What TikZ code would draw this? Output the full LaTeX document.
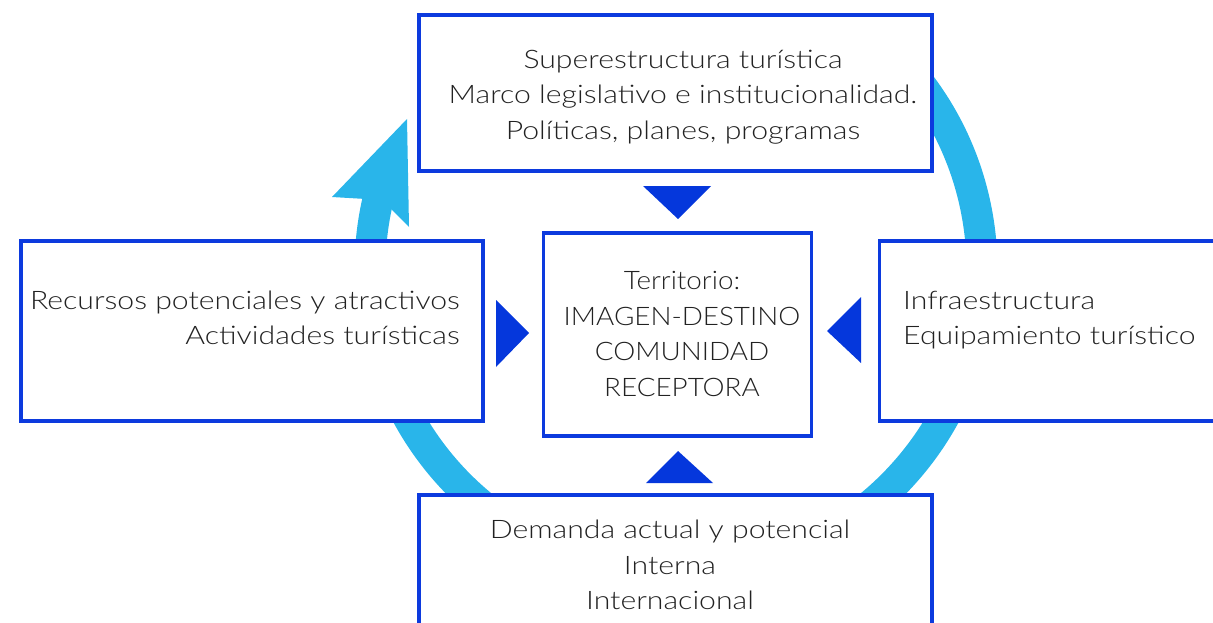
\documentclass[tikz,border=0pt]{standalone}
\usepackage{fontspec}
\setmainfont{Lato}[UprightFont=* Light, FakeStretch=1.185]
\newfontfamily\centerfont{Lato}[UprightFont=* Light, FakeStretch=1.09]
\definecolor{boxblue}{RGB}{12,58,222}
\definecolor{ringblue}{RGB}{41,181,234}
\definecolor{triblue}{RGB}{5,55,220}
\definecolor{textgray}{RGB}{34,34,34}
\tikzset{
  boxnode/.style={draw=boxblue, line width=3.5pt, fill=white, inner sep=0pt, rectangle},
  txt/.style={font=\fontsize{25.5}{35.5}\selectfont, text=textgray, inner sep=0pt},
  tri/.style={fill=triblue, draw=none}
}
\begin{document}
\begin{tikzpicture}[x=1pt,y=-1pt]
\useasboundingbox (0,0) rectangle (1213,623);
\clip (0,0) rectangle (1213,623);
% ring
\coordinate (ringc) at (676,269);
\draw[ringblue, line width=31pt] (ringc) ++(-50:306) arc[start angle=-50, end angle=195, radius=306];
\fill[ringblue] (366,199) -- (332,197) -- (407,119) -- (409,227) -- (389,207) -- cycle;
% boxes
\node[boxnode, minimum width=513pt, minimum height=156pt] (topbox) at (675.5,93) {};
\node[boxnode, minimum width=462pt, minimum height=180pt] (leftbox) at (252,331) {};
\node[boxnode, minimum width=268pt, minimum height=203pt] (centerbox) at (677.5,334.5) {};
\node[boxnode, minimum width=400pt, minimum height=180pt, anchor=west] (rightbox) at (877.5,331) {};
\node[boxnode, minimum width=513pt, minimum height=200pt, anchor=north] (bottombox) at (675.5,493) {};
% triangles
\fill[tri] (643,186) -- (711,186) -- (678,219) -- cycle;
\fill[tri] (496,300) -- (496,367) -- (529,333) -- cycle;
\fill[tri] (861,297) -- (861,363) -- (827,331) -- cycle;
\fill[tri] (646,483) -- (713,483) -- (678,451) -- cycle;
% texts
\node[txt, align=center] (toptext) at (683,97) {Superestructura turística\\Marco legislativo e institucionalidad.\\Políticas, planes, programas};
\node[txt, align=right, anchor=east] (lefttext) at (460,318) {Recursos potenciales y atractivos\\Actividades turísticas};
\node[txt, align=center, font=\centerfont\fontsize{25.5}{35.5}\selectfont] (centertext) at (682,334) {Territorio:\\IMAGEN-DESTINO\\COMUNIDAD\\RECEPTORA};
\node[txt, align=left, anchor=west] (righttext) at (903,320) {Infraestructura\\Equipamiento turístico};
\node[txt, align=center] (bottomtext) at (670,565) {Demanda actual y potencial\\Interna\\Internacional};
\end{tikzpicture}
\end{document}
